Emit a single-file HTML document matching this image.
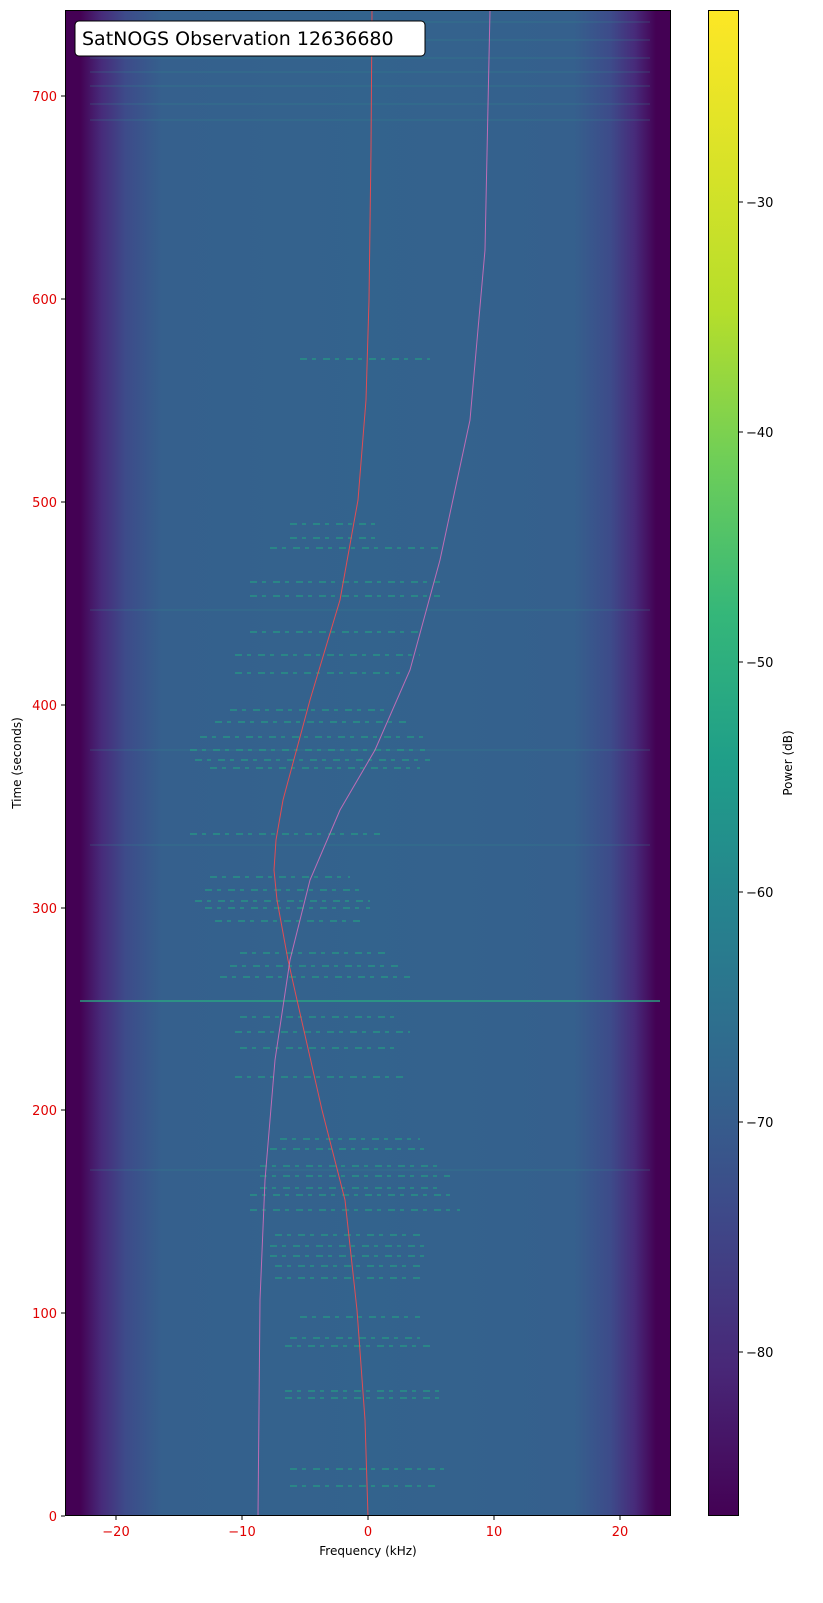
<!DOCTYPE html>
<html><head><meta charset="utf-8"><style>
html,body{margin:0;padding:0;background:#fff;}
svg{display:block;font-family:"DejaVu Sans","Liberation Sans",sans-serif;}
</style></head><body>
<svg width="823" height="1603" viewBox="0 0 823 1603" xmlns="http://www.w3.org/2000/svg">
<defs>
<linearGradient id="bg" x1="0" x2="1" y1="0" y2="0">
<stop offset="0" stop-color="#440154"/>
<stop offset="0.025" stop-color="#440154"/>
<stop offset="0.06" stop-color="#472b7a"/>
<stop offset="0.10" stop-color="#3d4b8a"/>
<stop offset="0.16" stop-color="#35608d"/>
<stop offset="0.5" stop-color="#33638d"/>
<stop offset="0.84" stop-color="#35608d"/>
<stop offset="0.90" stop-color="#3d4b8a"/>
<stop offset="0.94" stop-color="#472b7a"/>
<stop offset="0.975" stop-color="#440154"/>
<stop offset="1" stop-color="#440154"/>
</linearGradient>
<linearGradient id="vir" x1="0" x2="0" y1="1" y2="0">
<stop offset="0" stop-color="#440154"/>
<stop offset="0.1" stop-color="#482878"/>
<stop offset="0.2" stop-color="#3e4989"/>
<stop offset="0.3" stop-color="#31688e"/>
<stop offset="0.4" stop-color="#26828e"/>
<stop offset="0.5" stop-color="#1f9e89"/>
<stop offset="0.6" stop-color="#35b779"/>
<stop offset="0.7" stop-color="#6ece58"/>
<stop offset="0.8" stop-color="#b5de2b"/>
<stop offset="1" stop-color="#fde725"/>
</linearGradient>
<clipPath id="pc"><rect x="65" y="10" width="606" height="1506"/></clipPath>
</defs>
<rect x="65" y="10" width="606" height="1506" fill="url(#bg)"/>
<g clip-path="url(#pc)">
<g stroke="#2f8f8c" stroke-width="1" opacity="0.35">
<line x1="90" x2="650" y1="22" y2="22"/><line x1="90" x2="650" y1="40" y2="40"/><line x1="90" x2="650" y1="58" y2="58"/>
<line x1="90" x2="650" y1="72" y2="72"/><line x1="90" x2="650" y1="86" y2="86"/><line x1="90" x2="650" y1="104" y2="104"/>
<line x1="90" x2="650" y1="120" y2="120"/><line x1="90" x2="650" y1="610" y2="610"/><line x1="90" x2="650" y1="750" y2="750"/>
<line x1="90" x2="650" y1="845" y2="845"/><line x1="90" x2="650" y1="1170" y2="1170"/>
</g>
<line x1="80" x2="660" y1="1001" y2="1001" stroke="#2aa882" stroke-width="2" opacity="0.7"/>
<g stroke="#23a583" stroke-width="2" stroke-dasharray="7 5 4 7" opacity="0.55">
<line x1="290" x2="440" y1="1486" y2="1486"/><line x1="290" x2="450" y1="1469" y2="1469"/>
<line x1="285" x2="445" y1="1398" y2="1398"/><line x1="285" x2="445" y1="1391" y2="1391"/>
<line x1="285" x2="430" y1="1346" y2="1346"/><line x1="290" x2="420" y1="1338" y2="1338"/>
<line x1="300" x2="420" y1="1317" y2="1317"/>
<line x1="275" x2="425" y1="1278" y2="1278"/><line x1="275" x2="425" y1="1266" y2="1266"/><line x1="270" x2="425" y1="1256" y2="1256"/>
<line x1="270" x2="425" y1="1246" y2="1246"/><line x1="275" x2="425" y1="1235" y2="1235"/>
<line x1="250" x2="460" y1="1210" y2="1210"/><line x1="250" x2="450" y1="1195" y2="1195"/><line x1="260" x2="440" y1="1188" y2="1188"/>
<line x1="260" x2="450" y1="1176" y2="1176"/><line x1="260" x2="440" y1="1166" y2="1166"/><line x1="270" x2="430" y1="1149" y2="1149"/>
<line x1="280" x2="420" y1="1139" y2="1139"/>
<line x1="235" x2="405" y1="1077" y2="1077"/><line x1="240" x2="400" y1="1048" y2="1048"/>
<line x1="235" x2="410" y1="1032" y2="1032"/><line x1="240" x2="400" y1="1017" y2="1017"/>
<line x1="220" x2="410" y1="977" y2="977"/><line x1="230" x2="400" y1="966" y2="966"/><line x1="240" x2="390" y1="953" y2="953"/>
<line x1="215" x2="360" y1="921" y2="921"/><line x1="205" x2="370" y1="908" y2="908"/><line x1="195" x2="370" y1="901" y2="901"/>
<line x1="205" x2="360" y1="890" y2="890"/><line x1="210" x2="350" y1="877" y2="877"/>
<line x1="190" x2="380" y1="834" y2="834"/>
<line x1="210" x2="420" y1="768" y2="768"/><line x1="195" x2="430" y1="760" y2="760"/><line x1="190" x2="425" y1="750" y2="750"/>
<line x1="200" x2="425" y1="737" y2="737"/><line x1="215" x2="410" y1="722" y2="722"/><line x1="230" x2="390" y1="710" y2="710"/>
<line x1="235" x2="400" y1="673" y2="673"/><line x1="235" x2="420" y1="655" y2="655"/>
<line x1="250" x2="420" y1="632" y2="632"/>
<line x1="250" x2="440" y1="596" y2="596"/><line x1="250" x2="440" y1="582" y2="582"/>
<line x1="270" x2="440" y1="548" y2="548"/><line x1="290" x2="380" y1="538" y2="538"/><line x1="290" x2="380" y1="524" y2="524"/>
<line x1="300" x2="430" y1="359" y2="359"/>
</g>
<path d="M368,1516 L365,1420 L357,1310 L345,1200 L322,1110 L297,1000 L288,960 L277,900 L274,870 L276,840 L283,800 L310,700 L340,600 L358,500 L366,400 L369,300 L371,150 L372,10" fill="none" stroke="#ff4a4a" stroke-width="1" opacity="0.85"/>
<path d="M258,1516 L260,1300 L265,1180 L275,1060 L290,960 L310,880 L340,810 L375,750 L410,670 L440,560 L470,420 L485,250 L490,10" fill="none" stroke="#e070c0" stroke-width="1" opacity="0.8"/>
</g>
<rect x="65.5" y="10.5" width="605" height="1505" fill="none" stroke="#000" stroke-width="1"/>
<rect x="75" y="21" width="350" height="35" rx="4" fill="#fff" stroke="#000" stroke-width="1"/>
<text x="82" y="45" font-size="19" fill="#000">SatNOGS Observation 12636680</text>
<g stroke="#000" stroke-width="1">
<line x1="116" x2="116" y1="1516" y2="1520"/><line x1="242" x2="242" y1="1516" y2="1520"/><line x1="368" x2="368" y1="1516" y2="1520"/><line x1="494" x2="494" y1="1516" y2="1520"/><line x1="620" x2="620" y1="1516" y2="1520"/>
<line x1="61" x2="65" y1="1516" y2="1516"/><line x1="61" x2="65" y1="1313" y2="1313"/><line x1="61" x2="65" y1="1110" y2="1110"/><line x1="61" x2="65" y1="908" y2="908"/><line x1="61" x2="65" y1="705" y2="705"/><line x1="61" x2="65" y1="502" y2="502"/><line x1="61" x2="65" y1="299" y2="299"/><line x1="61" x2="65" y1="96" y2="96"/>
</g>
<g font-size="13" fill="#e00000" text-anchor="middle">
<text x="116" y="1536">−20</text><text x="242" y="1536">−10</text><text x="368" y="1536">0</text><text x="494" y="1536">10</text><text x="620" y="1536">20</text>
</g>
<g font-size="13" fill="#e00000" text-anchor="end">
<text x="57" y="1521">0</text><text x="57" y="1318">100</text><text x="57" y="1115">200</text><text x="57" y="913">300</text><text x="57" y="710">400</text><text x="57" y="507">500</text><text x="57" y="304">600</text><text x="57" y="101">700</text>
</g>
<text x="368" y="1555" font-size="12" text-anchor="middle">Frequency (kHz)</text>
<text transform="translate(21,763) rotate(-90)" font-size="12" text-anchor="middle">Time (seconds)</text>
<rect x="708" y="10" width="31" height="1506" fill="url(#vir)"/>
<rect x="708.5" y="10.5" width="30" height="1505" fill="none" stroke="#000"/>
<g stroke="#000"><line x1="739" x2="743" y1="202" y2="202"/><line x1="739" x2="743" y1="432" y2="432"/><line x1="739" x2="743" y1="662" y2="662"/><line x1="739" x2="743" y1="892" y2="892"/><line x1="739" x2="743" y1="1122" y2="1122"/><line x1="739" x2="743" y1="1352" y2="1352"/></g>
<g font-size="13" fill="#000">
<text x="746" y="207">−30</text><text x="746" y="437">−40</text><text x="746" y="667">−50</text><text x="746" y="897">−60</text><text x="746" y="1127">−70</text><text x="746" y="1357">−80</text>
</g>
<text transform="translate(792,763) rotate(-90)" font-size="12" text-anchor="middle">Power (dB)</text>
</svg>
</body></html>
